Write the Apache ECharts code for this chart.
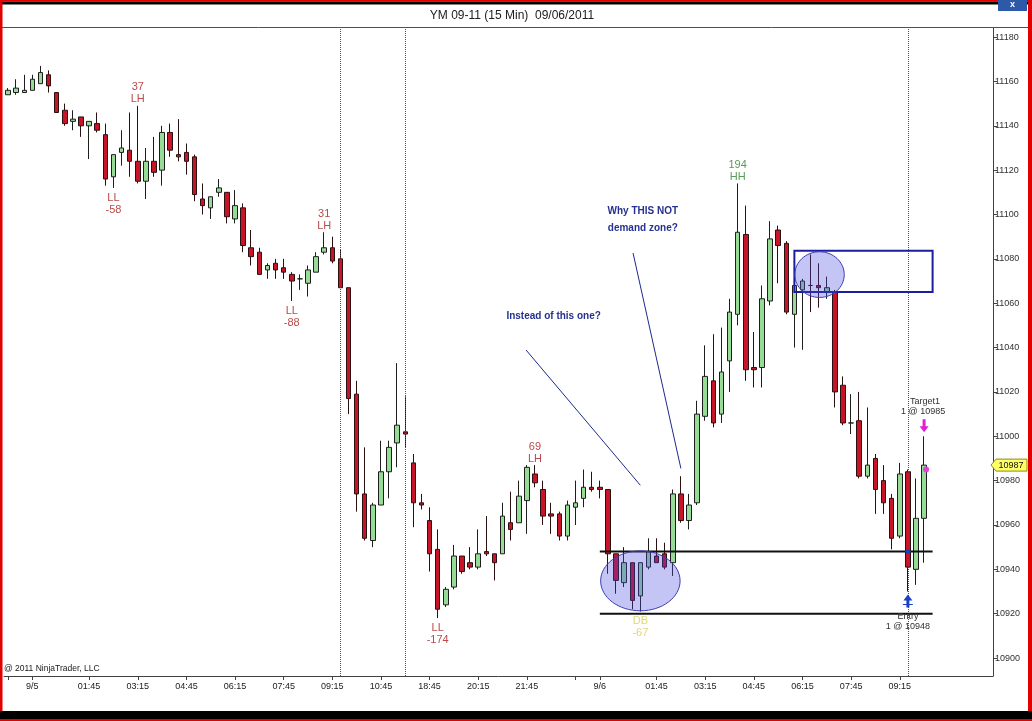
<!DOCTYPE html>
<html><head><meta charset="utf-8">
<script src="https://cdn.jsdelivr.net/npm/echarts@6/dist/echarts.min.js"></script>
<style>html,body{margin:0;padding:0;background:#fff}#c{width:1032px;height:721px}</style>
</head><body><div id="c"></div>
<script>
// ---------- DATA ----------
const categories = [
'09/04 23:15','09/04 23:30','09/04 23:45','09/05 00:00','09/05 00:15','09/05 00:30','09/05 00:45','09/05 01:00','09/05 01:15','09/05 01:30',
'09/05 01:45','09/05 02:00','09/05 02:15','09/05 02:30','09/05 02:45','09/05 03:00','09/05 03:15','09/05 03:30','09/05 03:45','09/05 04:00',
'09/05 04:15','09/05 04:30','09/05 04:45','09/05 05:00','09/05 05:15','09/05 05:30','09/05 05:45','09/05 06:00','09/05 06:15','09/05 06:30',
'09/05 06:45','09/05 07:00','09/05 07:15','09/05 07:30','09/05 07:45','09/05 08:00','09/05 08:15','09/05 08:30','09/05 08:45','09/05 09:00',
'09/05 09:15','09/05 09:30','09/05 09:45','09/05 10:00','09/05 10:15','09/05 10:30','09/05 10:45','09/05 11:00','09/05 11:15','09/05 18:00',
'09/05 18:15','09/05 18:30','09/05 18:45','09/05 19:00','09/05 19:15','09/05 19:30','09/05 19:45','09/05 20:00','09/05 20:15','09/05 20:30',
'09/05 20:45','09/05 21:00','09/05 21:15','09/05 21:30','09/05 21:45','09/05 22:00','09/05 22:15','09/05 22:30','09/05 22:45','09/05 23:00',
'09/05 23:15','09/05 23:30','09/05 23:45','09/06 00:00','09/06 00:15','09/06 00:30','09/06 00:45','09/06 01:00','09/06 01:15','09/06 01:30',
'09/06 01:45','09/06 02:00','09/06 02:15','09/06 02:30','09/06 02:45','09/06 03:00','09/06 03:15','09/06 03:30','09/06 03:45','09/06 04:00',
'09/06 04:15','09/06 04:30','09/06 04:45','09/06 05:00','09/06 05:15','09/06 05:30','09/06 05:45','09/06 06:00','09/06 06:15','09/06 06:30',
'09/06 06:45','09/06 07:00','09/06 07:15','09/06 07:30','09/06 07:45','09/06 08:00','09/06 08:15','09/06 08:30','09/06 08:45','09/06 09:00',
'09/06 09:15','09/06 09:30','09/06 09:45','09/06 10:00','09/06 10:15','09/06 10:30','09/06 10:45','09/06 11:00','09/06 11:15','09/06 11:30',
'09/06 11:45','09/06 12:00'];

const opens = [11154,11155,11155,11156,11159,11163,11155,11147,11142,11144,11140,11141,11136,11117,11128,11129,11124,11115,11124,11120,
11137,11127,11128,11126,11107,11103,11110,11110,11098,11103,11085,11083,11075,11078,11076,11073,11071,11069,11074,11083,
11085,11080,11067,11019,10974,10953,10969,10984,10997,11002,10988,10970,10962,10949,10924,10932,10946,10943,10941,10948,
10947,10947,10961,10961,10971,10983,10976,10965,10965,10955,10968,10972,10977,10977,10976,10947,10934,10943,10928,10941,
10946,10947,10943,10974,10962,10970,11009,11025,11010,11034,11055,11091,11031,11031,11061,11093,11087,11055,11066,11068,
11068,11065,11065,11023,11006,11007,10982,10990,10980,10972,10955,10984,10940,10963];
const closes = [11156,11157,11156,11161,11164,11158,11146,11141,11143,11140,11142,11138,11116,11127,11130,11124,11115,11124,11119,11137,
11129,11126,11124,11109,11104,11108,11112,11099,11104,11086,11081,11073,11077,11075,11074,11070,11071,11075,11081,11085,
11079,11067,11017,10974,10954,10969,10984,10995,11005,11001,10970,10969,10947,10922,10931,10946,10939,10941,10947,10947,
10943,10964,10958,10973,10986,10979,10964,10964,10955,10969,10970,10977,10976,10976,10947,10935,10943,10926,10943,10948,
10943,10941,10974,10962,10969,11010,11027,11006,11029,11056,11092,11030,11030,11062,11089,11086,11056,11068,11070,11068,
11067,11067,11020,11006,11006,10982,10987,10976,10970,10954,10983,10941,10963,10987];
const lows = [11154,11154,11155,11156,11159,11155,11146,11140,11138,11135,11125,11137,11113,11112,11122,11117,11114,11107,11117,11113,
11126,11124,11118,11106,11100,11098,11108,11096,11096,11083,11077,11073,11071,11071,11071,11061,11066,11063,11074,11082,
11078,11067,11010,10966,10953,10950,10969,10972,10986,10995,10959,10967,10939,10918,10923,10931,10938,10940,10940,10946,
10935,10947,10953,10961,10956,10977,10960,10956,10953,10953,10960,10968,10975,10972,10938,10929,10932,10922,10921,10940,
10943,10940,10937,10961,10958,10969,11007,11004,11006,11020,11050,11025,11022,11022,11059,11069,11055,11040,11039,11056,
11058,11062,11013,11005,11001,10981,10981,10965,10965,10949,10954,10930,10933,10943];
const highs = [11157,11161,11163,11163,11167,11165,11155,11150,11147,11144,11142,11146,11141,11127,11138,11146,11149,11130,11135,11140,
11141,11143,11132,11127,11114,11108,11116,11110,11111,11105,11093,11085,11078,11080,11080,11074,11073,11077,11083,11092,
11090,11084,11067,11025,10995,10970,10998,10998,11033,11018,10992,10974,10968,10958,10932,10951,10946,10950,10958,10964,
10947,10970,10975,10980,10987,10987,10980,10970,10966,10971,10980,10985,10984,10980,10976,10947,10950,10943,10943,10954,
10954,10952,10976,10982,10974,11016,11041,11046,11049,11062,11114,11104,11047,11068,11097,11095,11088,11069,11071,11082,
11078,11072,11066,11027,11019,11020,11013,10992,10987,10974,10988,10985,10981,11000];

const tickIndex = [0,3,10,16,22,28,34,40,46,52,58,64,70,73,80,86,92,98,104,110];
const tickText  = ['','9/5','01:45','03:15','04:45','06:15','07:45','09:15','10:45','18:45','20:15','21:45','','9/6','01:45','03:15','04:45','06:15','07:45','09:15'];
const yTicks = [10900,10920,10940,10960,10980,11000,11020,11040,11060,11080,11100,11120,11140,11160,11180];
const sessionBreaks = [41,49,111];

// swing labels
const swingIndex = [16,13,39,35,65,53,90,78];
const swingSide  = ['above','below','above','below','above','below','above','below'];
const swingLine1 = ['37','LL','31','LL','69','LL','194','DB'];
const swingLine2 = ['LH','-58','LH','-88','LH','-174','HH','-67'];
const swingColor = ['#b94a4a','#b94a4a','#b94a4a','#b94a4a','#b94a4a','#b94a4a','#5a9a5a','#e3d57a'];

const entryPrice = 10948, stopPrice = 10920, targetPrice = 10985, lastPrice = 10987;

// ---------- CHART ----------
const chart = echarts.init(document.getElementById('c'), null, {renderer:'canvas'});
const FONT = '"Liberation Sans", Arial, sans-serif';
const labelMap = {}; tickIndex.forEach((t,k)=>labelMap[t]=tickText[k]);

chart.setOption({
  animation:false,
  backgroundColor:'#ffffff',
  grid:{left:4, top:28, width:989, height:648, outerBoundsMode:'none', containLabel:false},
  xAxis:{type:'category', data:categories, boundaryGap:true,
    axisLine:{lineStyle:{color:'#404040', width:1}},
    axisTick:{show:true, alignWithLabel:true, length:4, interval:(i)=>labelMap.hasOwnProperty(i), lineStyle:{color:'#404040'}},
    axisLabel:{show:true, interval:(i)=>labelMap.hasOwnProperty(i) && labelMap[i]!=='', formatter:(v,i)=>labelMap[i]||'',
      fontSize:9, color:'#202020', margin:6, fontFamily:FONT},
    splitLine:{show:false}},
  yAxis:{type:'value', position:'right', min:10891.9, max:11184.1, scale:true,
    axisLine:{show:true, lineStyle:{color:'#404040'}},
    axisTick:{show:true, length:4, customValues:yTicks, lineStyle:{color:'#404040'}},
    axisLabel:{show:true, customValues:yTicks, formatter:(v)=>String(Math.round(v)), fontSize:9, color:'#303030', margin:2, fontFamily:FONT},
    splitLine:{show:false}},
  series:[{
    type:'candlestick', barWidth:5,
    data: opens.map((o,i)=>[o, closes[i], lows[i], highs[i]]),
    itemStyle:{color:'#96dc96', color0:'#c81428', borderColor:'#1e1e1e', borderColor0:'#2a1010', borderWidth:1},
    markLine:{silent:true, symbol:['none','none'], label:{show:false},
      lineStyle:{type:'dotted', color:'#505050', width:1},
      data: sessionBreaks.map(b=>({xAxis:b}))}
  }]
});

function px(i, v){
  const i0 = Math.floor(i);
  const p0 = chart.convertToPixel({xAxisIndex:0, yAxisIndex:0}, [i0, v]);
  const p1 = chart.convertToPixel({xAxisIndex:0, yAxisIndex:0}, [i0+1, v]);
  return [p0[0] + (i-i0)*(p1[0]-p0[0]), p0[1]];
}
function txt(x,y,t,font,fill,align,z){
  return {type:'text', z:z||200, silent:true, style:{text:t, x:x, y:y, font:font, fill:fill,
    textAlign:align||'center', textVerticalAlign:'middle', align:align||'center', verticalAlign:'middle'}};
}
const g = [];
// frame
g.push({type:'rect', z:300, silent:true, shape:{x:0,y:0,width:1032,height:1.5}, style:{fill:'#e00000'}});
g.push({type:'rect', z:300, silent:true, shape:{x:0,y:1.5,width:1032,height:3}, style:{fill:'#000000'}});
g.push({type:'rect', z:300, silent:true, shape:{x:0,y:0,width:2.5,height:721}, style:{fill:'#e00000'}});
g.push({type:'rect', z:300, silent:true, shape:{x:1028,y:0,width:4,height:721}, style:{fill:'#e00000'}});
g.push({type:'rect', z:300, silent:true, shape:{x:0,y:711,width:1032,height:8}, style:{fill:'#000000'}});
g.push({type:'rect', z:300, silent:true, shape:{x:0,y:719,width:1032,height:2}, style:{fill:'#e00000'}});
g.push({type:'line', z:300, silent:true, shape:{x1:2,y1:27.5,x2:1028,y2:27.5}, style:{stroke:'#505050', lineWidth:1}});
g.push({type:'rect', z:301, silent:true, shape:{x:998,y:0,width:29,height:11}, style:{fill:'#2d5aa8'}});
g.push(txt(1012.5,5,'x','bold 9px '+FONT,'#ffffff','center',302));
g.push(txt(512,16,'YM 09-11 (15 Min)  09/06/2011','12px '+FONT,'#202020'));
g.push(txt(4,669,'@ 2011 NinjaTrader, LLC','8.5px '+FONT,'#202020','left'));

// swing labels
swingIndex.forEach((bi,k)=>{
  if (swingSide[k]==='above'){
    const p = px(bi, highs[bi]);
    g.push(txt(p[0], p[1]-18.5, swingLine1[k], '11px '+FONT, swingColor[k]));
    g.push(txt(p[0], p[1]-6.5, swingLine2[k], '11px '+FONT, swingColor[k]));
  } else {
    const p = px(bi, lows[bi]);
    g.push(txt(p[0], p[1]+10, swingLine1[k], '11px '+FONT, swingColor[k]));
    g.push(txt(p[0], p[1]+22, swingLine2[k], '11px '+FONT, swingColor[k]));
  }
});

// horizontal entry/stop lines
[entryPrice, stopPrice].forEach(v=>{
  const a = px(73, v), b = px(114.05, v);
  g.push({type:'line', z:150, silent:true, shape:{x1:a[0],y1:a[1],x2:b[0],y2:b[1]}, style:{stroke:'#101010', lineWidth:2}});
});
// demand zone rectangle
(function(){
  const a = px(97, 11083.6), b = px(114.05, 11065);
  g.push({type:'rect', z:150, silent:true, shape:{x:a[0],y:a[1],width:b[0]-a[0],height:b[1]-a[1]}, style:{fill:'none', stroke:'#1c1c9c', lineWidth:2}});
})();
// ellipses
function ell(ci, cv, rb, rv){
  const c = px(ci, cv), r1 = px(ci+rb, cv), r2 = px(ci, cv+rv);
  g.push({type:'ellipse', z:160, silent:true, shape:{cx:c[0], cy:c[1], rx:r1[0]-c[0], ry:c[1]-r2[1]},
    style:{fill:'rgba(70,70,225,0.32)', stroke:'#3c3cb4', lineWidth:1}});
}
ell(78.0, 10934.8, 4.9, 13.5);
ell(100.1, 11072.9, 3.05, 10.3);
// pointer lines
function seg(i1,v1,i2,v2){
  const a = px(i1,v1), b = px(i2,v2);
  g.push({type:'line', z:170, silent:true, shape:{x1:a[0],y1:a[1],x2:b[0],y2:b[1]}, style:{stroke:'#1c2a8c', lineWidth:1}});
}
seg(63.9, 11038.9, 78.0, 10977.9);
seg(77.1, 11082.6, 83.0, 10985.5);
// annotation texts
(function(){
  let p = px(78.3, 11101.5); g.push(txt(p[0], p[1], 'Why THIS NOT', 'bold 10px '+FONT, '#25318f'));
  p = px(78.3, 11093.8); g.push(txt(p[0], p[1], 'demand zone?', 'bold 10px '+FONT, '#25318f'));
  p = px(67.3, 11054); g.push(txt(p[0], p[1], 'Instead of this one?', 'bold 10px '+FONT, '#25318f'));
})();
// target / entry markers
(function(){
  const h = px(113, highs[113]);
  const x = h[0], y0 = h[1]-17;
  g.push({type:'polygon', z:180, silent:true, shape:{points:[[x-1.5,y0],[x+1.5,y0],[x+1.5,y0+7],[x+4.5,y0+7],[x,y0+13],[x-4.5,y0+7],[x-1.5,y0+7]]}, style:{fill:'#e020d8'}});
  g.push(txt(x+1, y0-18, 'Target1', '9px '+FONT, '#303030'));
  g.push(txt(x-1, y0-8, '1 @ '+targetPrice, '9px '+FONT, '#303030'));
  const t = px(113, targetPrice);
  g.push({type:'circle', z:180, silent:true, shape:{cx:t[0]+2, cy:t[1], r:3}, style:{fill:'#e040e0'}});

  const l = px(111, lows[111]);
  const xe = l[0], ye = l[1]+3;
  g.push({type:'polygon', z:180, silent:true, shape:{points:[[xe,ye],[xe+4.5,ye+6],[xe+1.5,ye+6],[xe+1.5,ye+13],[xe-1.5,ye+13],[xe-1.5,ye+6],[xe-4.5,ye+6]]}, style:{fill:'#1a40c8'}});
  g.push({type:'line', z:180, silent:true, shape:{x1:xe-5,y1:ye+10,x2:xe+5,y2:ye+10}, style:{stroke:'#1a40c8', lineWidth:1}});
  g.push(txt(xe, ye+22, 'Entry', '9px '+FONT, '#303030'));
  g.push(txt(xe, ye+32, '1 @ '+entryPrice, '9px '+FONT, '#303030'));
  const e = px(111, entryPrice);
  g.push({type:'polygon', z:180, silent:true, shape:{points:[[e[0]-3,e[1]],[e[0],e[1]-3],[e[0]+3,e[1]],[e[0],e[1]+3]]}, style:{fill:'#1a40c8'}});
})();
// last price tag
(function(){
  const p = px(113, lastPrice);
  const y = p[1], x0 = 991;
  g.push({type:'polygon', z:250, silent:true, shape:{points:[[x0,y],[x0+5,y-6],[1027,y-6],[1027,y+6],[x0+5,y+6]]}, style:{fill:'#ffff66', stroke:'#8a8a20', lineWidth:1}});
  g.push(txt(1011, y, String(lastPrice), '9px '+FONT, '#101010', 'center', 260));
})();

chart.setOption({graphic:{elements:g}});
</script>
</body></html>
